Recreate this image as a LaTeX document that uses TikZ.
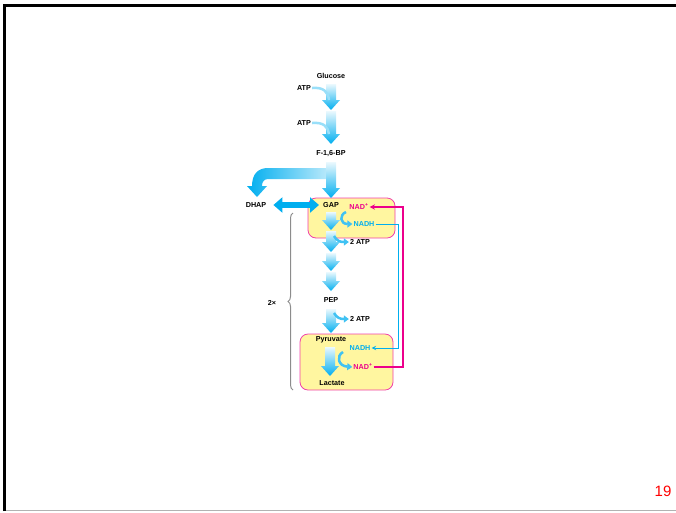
\documentclass[tikz,border=0pt]{standalone}
\usepackage{fontspec}
\setmainfont{Liberation Sans}
\usetikzlibrary{arrows.meta,calc,decorations.pathreplacing}
\definecolor{flowblue}{RGB}{0,174,239}
\definecolor{nadpink}{RGB}{236,0,140}
\definecolor{boxyellow}{RGB}{255,246,160}
\tikzset{
	molecule/.style={
		inner sep=1pt,
		font=\fontsize{7.2}{8}\selectfont\bfseries
	},
	flow/.style={
		top color=flowblue!8,
		bottom color=flowblue
	},
	side flow/.style={
		draw=flowblue!75,
		line width=2.5pt,
		-{Triangle[width=7pt,length=5pt]}
	},
	side feed/.style={
		draw=flowblue!40,
		line width=2.5pt
	},
	redox box/.style={
		draw=nadpink!75,
		fill=boxyellow,
		rounded corners=8pt,
		line width=0.8pt
	},
	nadh line/.style={color=flowblue, line width=1pt, ->},
	nad line/.style={color=nadpink, line width=1.3pt, ->},
}
% shaded block arrow, straight down from #1 to #2
\newcommand{\flowarrow}[2]{%
	\shade[flow] ($(#1)+(-5pt,0)$) -- ($(#2)+(-5pt,10pt)$) -- ($(#2)+(-9pt,10pt)$)
		-- (#2) -- ($(#2)+(9pt,10pt)$) -- ($(#2)+(5pt,10pt)$) -- ($(#1)+(5pt,0)$) -- cycle;}

\begin{document}
\begin{tikzpicture}[x=1pt, y=-1pt, >=stealth]

\useasboundingbox (0,0) rectangle (676,512);

% slide frame
\draw [line width=3pt] (4.5,511) -- (4.5,5.5) -- (676,5.5);
\draw [gray!60, line width=1pt] (6,510.5) -- (676,510.5);

\node [redox box, minimum width=87pt, minimum height=40pt] (box1) at (351.5,218) {};
\node [redox box, minimum width=93pt, minimum height=56pt] (box2) at (346.5,362) {};

% branch to DHAP
\shade [left color=flowblue, right color=flowblue!20]
	(336,168) -- (268,168) .. controls (258,168) and (252,174) .. (252,186)
	-- (247,186) -- (257,197) -- (267,186) -- (262,186)
	.. controls (262,182) and (264,179) .. (268,179) -- (336,179) -- cycle;

\foreach \i/\a/\b in {1/84/110, 2/111/144, 3/162/198, 4/212/230, 5/231/252, 6/253/271, 7/272/291, 8/309/333}
{
	\coordinate (s\i) at (331,\a);
	\coordinate (e\i) at (331,\b);
	\flowarrow{s\i}{e\i}
}
\coordinate (s9) at (330,347);
\coordinate (e9) at (330,376);
\flowarrow{s9}{e9}

\foreach \n/\t/\x/\y in {glc/Glucose/331/76, atp1/ATP/304/88, atp2/ATP/304/123, f16/{F-1,6-BP}/331/154,
		dhap/DHAP/256/205, gap/GAP/331/205, atp3/2 ATP/360/242, pep/PEP/331/300,
		atp4/2 ATP/360/319, pyr/Pyruvate/331/340, lac/Lactate/332/383, twox/2×/272/303}
	\node [molecule] (\n) at (\x,\y) {\t};

\node [molecule, text=nadpink] (nad1) at (359,207) {NAD\textsuperscript{+}};
\node [molecule, text=flowblue] (nadh1) at (364,224) {NADH};
\node [molecule, text=flowblue] (nadh2) at (360,348) {NADH};
\node [molecule, text=nadpink] (nad2) at (363,367) {NAD\textsuperscript{+}};

\node [text=red, font=\fontsize{15}{15}\selectfont] (page) at (663,491) {19};

% cofactors
\draw [side feed] (atp1.east) .. controls (324,87) and (328,92) .. (329,100);
\draw [side feed] (atp2.east) .. controls (324,122) and (328,127) .. (329,134);
\draw [side flow] (346,212) .. controls (339,215) and (340,224) .. (nadh1.west);
\draw [side flow] (334,236) .. controls (337,241) and (340,242) .. (atp3.west);
\draw [side flow] (334,313) .. controls (337,318) and (340,319) .. (atp4.west);
\draw [side flow] (343,352) .. controls (336,356) and (338,366) .. (nad2.west);

\draw [flowblue, line width=6pt, {Triangle[width=15pt,length=9pt]}-{Triangle[width=15pt,length=9pt]}]
	(dhap.east) ++(6,0) -- ($(gap.west)+(-3pt,0)$);

\coordinate (cturn) at (398,224);
\coordinate (mturn) at (403,367);
\draw [nadh line] (nadh1.east) -- (cturn) |- (nadh2.east);
\draw [nad line] (nad2.east) -- (mturn) |- (nad1.east);

\draw [gray!90, line width=1pt, decorate, decoration={brace, amplitude=5pt}]
	(293,390) -- (293,213);

\end{tikzpicture}
\end{document}
